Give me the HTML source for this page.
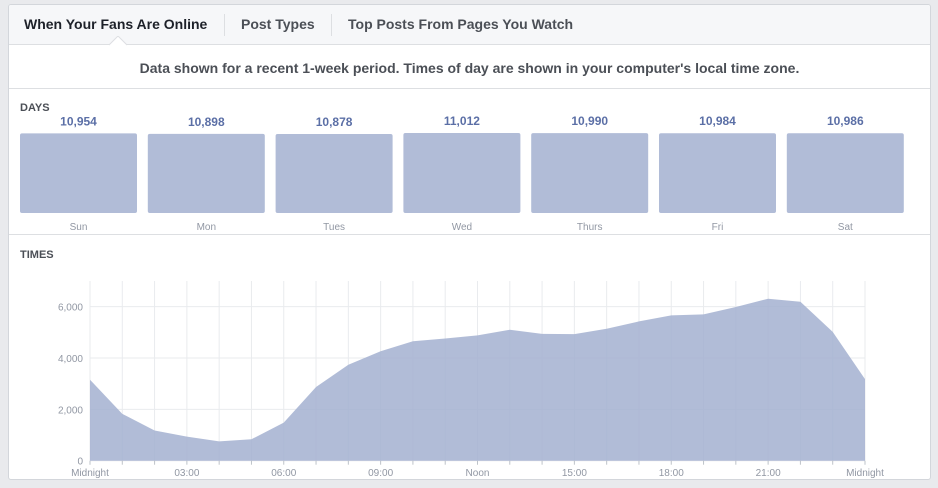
<!DOCTYPE html>
<html><head><meta charset="utf-8">
<style>
body{margin:0;width:938px;height:488px;background:#e9eaed;font-family:"Liberation Sans",Arial,sans-serif;position:relative;overflow:hidden}
.card{position:absolute;left:8px;top:4px;width:923px;height:476px;background:#fff;border:1px solid #d3d6db;border-radius:3px;box-sizing:border-box;overflow:hidden}
.tabs{position:absolute;left:0;top:0;width:100%;height:39px;background:#f6f7f9;border-bottom:1px solid #dddfe2}
.tab{position:absolute;top:11px;font-size:14px;font-weight:bold;color:#4b4f56}
.sep{position:absolute;top:9px;width:1px;height:22px;background:#dddfe2}
.abs{position:absolute}
</style></head><body>
<div class="card">
 <div class="tabs">
  <div class="tab" style="left:15px;color:#1d2129">When Your Fans Are Online</div>
  <div class="sep" style="left:215px"></div>
  <div class="tab" style="left:232px">Post Types</div>
  <div class="sep" style="left:322px"></div>
  <div class="tab" style="left:339px">Top Posts From Pages You Watch</div>
  <svg class="abs" style="left:100px;top:31px" width="18" height="10"><path d="M0 9 L9 0 L18 9" fill="#fff" stroke="#dddfe2"/></svg>
 </div>
 <div class="abs" style="left:0;top:55px;width:100%;text-align:center;font-size:14px;font-weight:bold;color:#4b4f56">Data shown for a recent 1-week period. Times of day are shown in your computer's local time zone.</div>
 <div class="abs" style="left:0;top:83px;width:100%;height:1px;background:#dddfe2"></div>
 <div class="abs" style="left:11px;top:97px;font-size:11px;font-weight:bold;color:#4b4f56">DAYS</div>
 <div class="abs" style="left:0;top:229px;width:100%;height:1px;background:#dddfe2"></div>
 <div class="abs" style="left:11px;top:244px;font-size:11px;font-weight:bold;color:#4b4f56">TIMES</div>
</div>
<svg id="s" class="abs" style="left:0;top:0" width="938" height="488"></svg>
<script>
const dayLabels=["Sun","Mon","Tues","Wed","Thurs","Fri","Sat"];
const dayValues=[10954,10898,10878,11012,10990,10984,10986];
const hourValues=[3155,1825,1175,940,755,835,1485,2870,3740,4265,4655,4760,4880,5100,4940,4930,5140,5425,5660,5700,5985,6310,6190,5020,3180];
const yTicks=[0,2000,4000,6000];
const yTickLabels=["0","2,000","4,000","6,000"];
const xTickHours=[0,3,6,9,12,15,18,21,24];
const xTickLabels=["Midnight","03:00","06:00","09:00","Noon","15:00","18:00","21:00","Midnight"];
const NS="http://www.w3.org/2000/svg",svg=document.getElementById('s');
function el(t,a,txt){const e=document.createElementNS(NS,t);for(const k in a)e.setAttribute(k,a[k]);if(txt!=null)e.textContent=txt;svg.appendChild(e);return e;}
// days
const dMax=Math.max(...dayValues),bBottom=213,bH=80;
dayValues.forEach((v,i)=>{const x=20+i*127.8,h=v/dMax*bH;
 const r=el('rect',{x:x,y:bBottom-h,width:117,height:h,fill:'#b1bcd7',rx:2});
 
 
 const t=el('text',{x:x+58.5,y:bBottom-h-8,'text-anchor':'middle','font-size':12,'font-weight':'bold',fill:'#5b6fa6'},v.toLocaleString('en-US'));
 
 
 const l=el('text',{x:x+58.5,y:230,'text-anchor':'middle','font-size':10,fill:'#9197a3'},dayLabels[i]);
 
 
});
// times
const X0=90,X1=865,Y0=460.7,yMax=7000,PTOP=281;
const xs=h=>X0+(X1-X0)*h/24, ys=v=>Y0-(Y0-PTOP)*v/yMax;
for(let h=0;h<=24;h++){const g=el('line',{x1:xs(h),x2:xs(h),y1:PTOP,y2:Y0,stroke:'#e9ebee'});
 
 }
yTicks.forEach((v,i)=>{const g=el('line',{x1:X0,x2:X1,y1:ys(v),y2:ys(v),stroke:'#e9ebee'});
 
 
 const t=el('text',{x:83,y:ys(v)+4,'text-anchor':'end','font-size':10,fill:'#9197a3'},yTickLabels[i]);
 
 });
let d='M'+xs(0)+' '+Y0;hourValues.forEach((v,i)=>{d+=' L'+xs(i)+' '+ys(v);});d+=' L'+xs(24)+' '+Y0+' Z';
const a=el('path',{d:d,fill:'#a3b0d0','fill-opacity':0.85});


for(let h=0;h<=24;h++){el('line',{x1:xs(h),x2:xs(h),y1:Y0,y2:Y0+4,stroke:'#bec3c9'});}
xTickHours.forEach((h,i)=>{const t=el('text',{x:xs(h),y:476,'text-anchor':'middle','font-size':10,fill:'#9197a3'},xTickLabels[i]);
 
 });
</script>
</body></html>
